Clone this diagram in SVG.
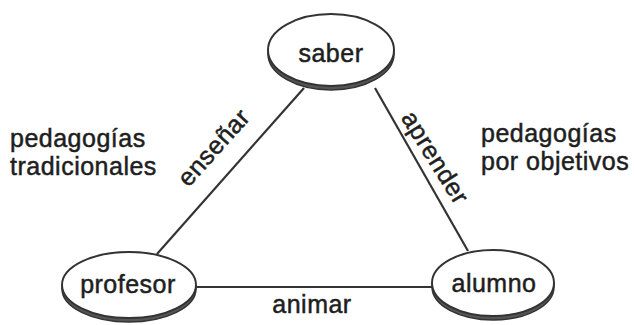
<svg xmlns="http://www.w3.org/2000/svg" width="634" height="325" viewBox="0 0 634 325">
<style>
text{font-family:"Liberation Sans",Arial,sans-serif;font-size:25px;letter-spacing:0.5px;fill:#1e1e1e;stroke:#1e1e1e;stroke-width:0.5px;}
.shadow{fill:#555;stroke:#333;stroke-width:1.5;}
.node{fill:#fff;stroke:#333;stroke-width:2;}
.edge{stroke:#333;stroke-width:2.2;fill:none;}
</style>
<rect width="634" height="325" fill="#fff"/>
<g id="connectors">
<line class="edge" x1="304" y1="88" x2="157" y2="254"/>
<line class="edge" x1="375" y1="88" x2="468" y2="251"/>
<line class="edge" x1="195" y1="287" x2="433" y2="287"/>
<text x="220" y="153" text-anchor="middle" transform="rotate(-48 220 153)">enseñar</text>
<text x="428" y="162" text-anchor="middle" transform="rotate(58 428 162)">aprender</text>
<text x="312" y="313" text-anchor="middle">animar</text>
</g>
<g id="saber">
<ellipse class="shadow" cx="331" cy="54" rx="63" ry="36"/>
<ellipse class="node" cx="331" cy="50" rx="63" ry="36"/>
<text x="331" y="62" text-anchor="middle">saber</text>
</g>
<g id="profesor">
<ellipse class="shadow" cx="129" cy="289" rx="67" ry="33"/>
<ellipse class="node" cx="129" cy="285" rx="67" ry="33"/>
<text x="128" y="293" text-anchor="middle">profesor</text>
</g>
<g id="alumno">
<ellipse class="shadow" cx="493" cy="287" rx="61" ry="33"/>
<ellipse class="node" cx="493" cy="283" rx="61" ry="33"/>
<text x="494" y="292" text-anchor="middle">alumno</text>
</g>
<g id="labels">
<text x="10" y="147">pedagogías</text>
<text x="10" y="175">tradicionales</text>
<text x="481" y="142">pedagogías</text>
<text x="481" y="170">por objetivos</text>
</g>
</svg>
